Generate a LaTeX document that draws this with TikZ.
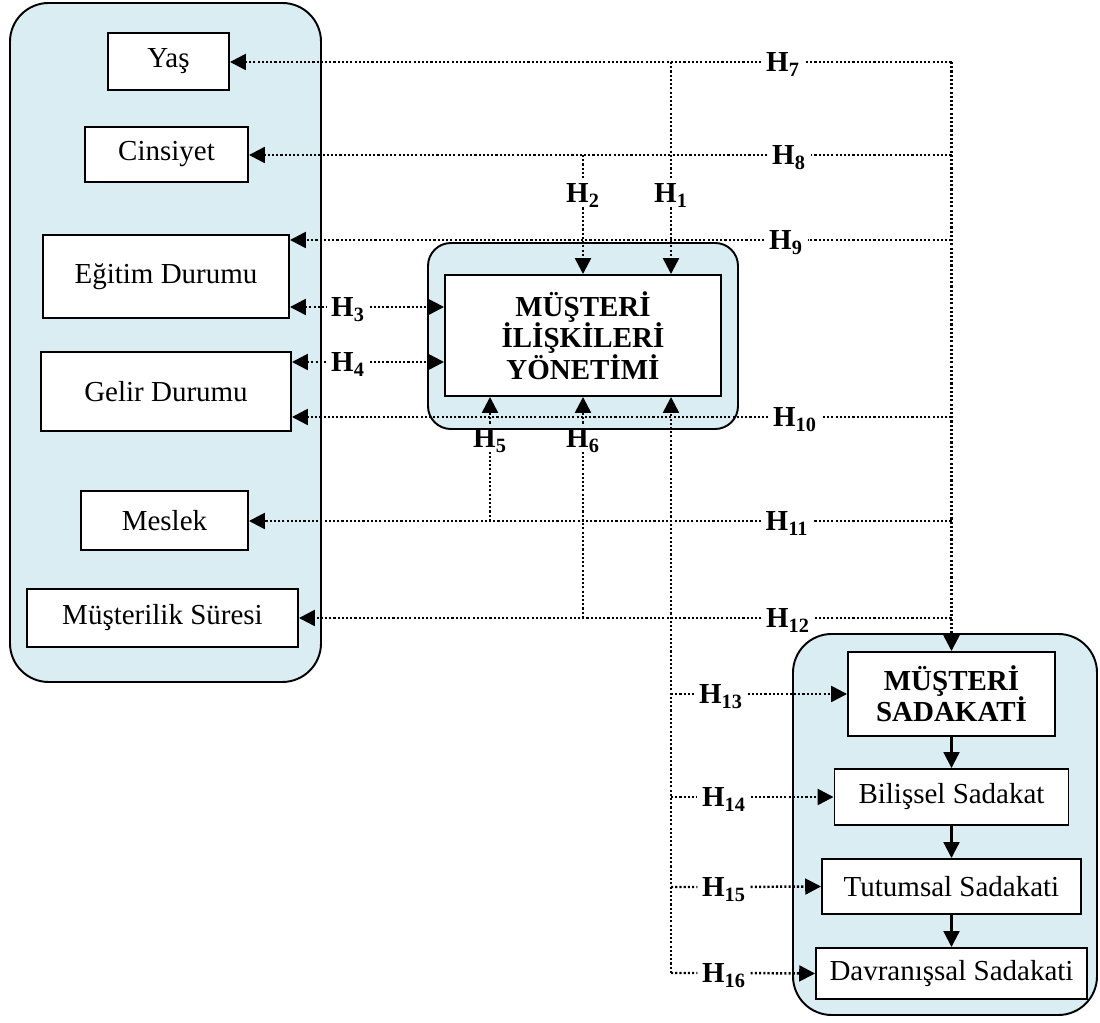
\documentclass[tikz,border=0pt]{standalone}
\usepackage{fontspec}
\setmainfont{Liberation Serif}
\usepackage{tikz}
\newcommand{\pxunit}{0.02cm}
\definecolor{groupBlue}{RGB}{218,237,243}
\usetikzlibrary{arrows.meta,calc}
\tikzset{
  >={Triangle[length=9pt,width=9pt]},
  x=\pxunit, y=-\pxunit,
  font=\fontsize{16.5}{17.6}\selectfont,
  wh/.style 2 args={minimum width=#1*\pxunit,minimum height=#2*\pxunit},
  box/.style={draw,fill=white,line width=1.1pt,shape=rectangle,inner sep=0,align=center},
  group/.style={draw,fill=groupBlue,line width=1.1pt,shape=rectangle,inner sep=0},
  hyp/.style={draw,line width=1.4pt,dash pattern=on 1.2pt off 1.2pt},
  flow/.style={draw,->,line width=1.2pt},
  hlabel/.style={inner sep=2.5pt,font=\fontsize{16.5}{17.6}\selectfont\bfseries,text height=11pt,text depth=0pt},
}

\begin{document}
\begin{tikzpicture}
    \useasboundingbox (0,0) rectangle (1100,1023);

    \node (demo) [group,wh={311}{679},rounded corners=22pt] at (165.5,342.5) {};
    \node (crmgroup) [group,wh={310}{186},rounded corners=13pt] at (583,336) {};
    \node (loyalgroup) [group,wh={304}{381},rounded corners=22pt] at (945,824.5) {};

    \node (yas) [box,wh={121}{57}] at (168.5,61.5) {Yaş};
    \node (cinsiyet) [box,wh={163}{55}] at (166.5,154.5) {Cinsiyet};
    \node (egitim) [box,wh={246}{83}] at (166,276.5) {Eğitim Durumu};
    \node (gelir) [box,wh={250}{79}] at (166,391.5) {Gelir Durumu};
    \node (meslek) [box,wh={167}{59}] at (164.5,520.5) {Meslek};
    \node (sure) [box,wh={271}{58}] at (162.5,618) {Müşterilik Süresi};

    \node (crm) [box,wh={276}{121},font=\fontsize{16.5}{17.8}\selectfont\bfseries] at (583,335.5) {MÜŞTERİ\\İLİŞKİLERİ\\YÖNETİMİ};

    \node (loyal) [box,wh={207}{84},font=\fontsize{16.5}{17.8}\selectfont\bfseries] at (951.5,694) {MÜŞTERİ\\SADAKATİ};
    \node (bilissel) [box,wh={234}{56}] at (951.5,797) {Bilişsel Sadakat};
    \node (tutumsal) [box,wh={259}{55}] at (951.5,886.5) {Tutumsal Sadakati};
    \node (davranis) [box,wh={271}{51}] at (951.5,973.5) {Davranışsal Sadakati};

    \node (h1) [hlabel] at (671,193) {H\textsubscript{1}};
    \node (h2) [hlabel] at (583,193) {H\textsubscript{2}};
    \node (h3) [hlabel] at (348,307) {H\textsubscript{3}};
    \node (h4) [hlabel] at (348,362) {H\textsubscript{4}};
    \node (h5) [hlabel] at (490,438) {H\textsubscript{5}};
    \node (h6) [hlabel] at (583,438) {H\textsubscript{6}};
    \node (h7) [hlabel] at (783,62) {H\textsubscript{7}};
    \node (h8) [hlabel] at (789,155) {H\textsubscript{8}};
    \node (h9) [hlabel] at (786,240) {H\textsubscript{9}};
    \node (h10) [hlabel] at (795,417) {H\textsubscript{10}};
    \node (h11) [hlabel] at (787,521) {H\textsubscript{11}};
    \node (h12) [hlabel] at (788,618) {H\textsubscript{12}};
    \node (h13) [hlabel] at (721,694) {H\textsubscript{13}};
    \node (h14) [hlabel] at (724,797) {H\textsubscript{14}};
    \node (h15) [hlabel] at (724,887) {H\textsubscript{15}};
    \node (h16) [hlabel] at (724,973) {H\textsubscript{16}};

    \path [hyp,->] (loyal.north |- h7) -- (loyal.north);
    \path [hyp,->] (loyal.north |- h7) -- (h7) -- (yas.east |- h7);
    \path [hyp,->] (loyal.north |- h8) -- (h8) -- (cinsiyet.east |- h8);
    \path [hyp,->] (loyal.north |- h9) -- (h9) -- (egitim.east |- h9);
    \path [hyp,->] (loyal.north |- h10) -- (h10) -- (gelir.east |- h10);
    \path [hyp,->] (loyal.north |- h11) -- (h11) -- (meslek.east |- h11);
    \path [hyp,->] (loyal.north |- h12) -- (h12) -- (sure.east |- h12);

    \path [hyp,->] (h1 |- h7) -- (h1) -- (h1 |- crm.north);
    \path [hyp,->] (h2 |- h8) -- (h2) -- (h2 |- crm.north);
    \path [hyp,<-] (egitim.east |- h3) -- (h3);
    \path [hyp,->] (h3) -- (crm.west |- h3);
    \path [hyp,<-] (gelir.east |- h4) -- (h4);
    \path [hyp,->] (h4) -- (crm.west |- h4);
    \path [hyp,->] (h5 |- h11) -- (h5) -- (h5 |- crm.south);
    \path [hyp,->] (h6 |- h12) -- (h6) -- (h6 |- crm.south);

    \path [hyp,->] (h1 |- h16) -- (h1 |- crm.south);
    \path [hyp,->] (h1 |- h13) -- (h13) -- (loyal.west);
    \path [hyp,->] (h1 |- h14) -- (h14) -- (bilissel.west);
    \path [hyp,->] (h1 |- h15) -- (h15) -- (tutumsal.west);
    \path [hyp,->] (h1 |- h16) -- (h16) -- (davranis.west);

    \path [flow] (loyal) -- (bilissel);
    \path [flow] (bilissel) -- (tutumsal);
    \path [flow] (tutumsal) -- (davranis);
\end{tikzpicture}
\end{document}
